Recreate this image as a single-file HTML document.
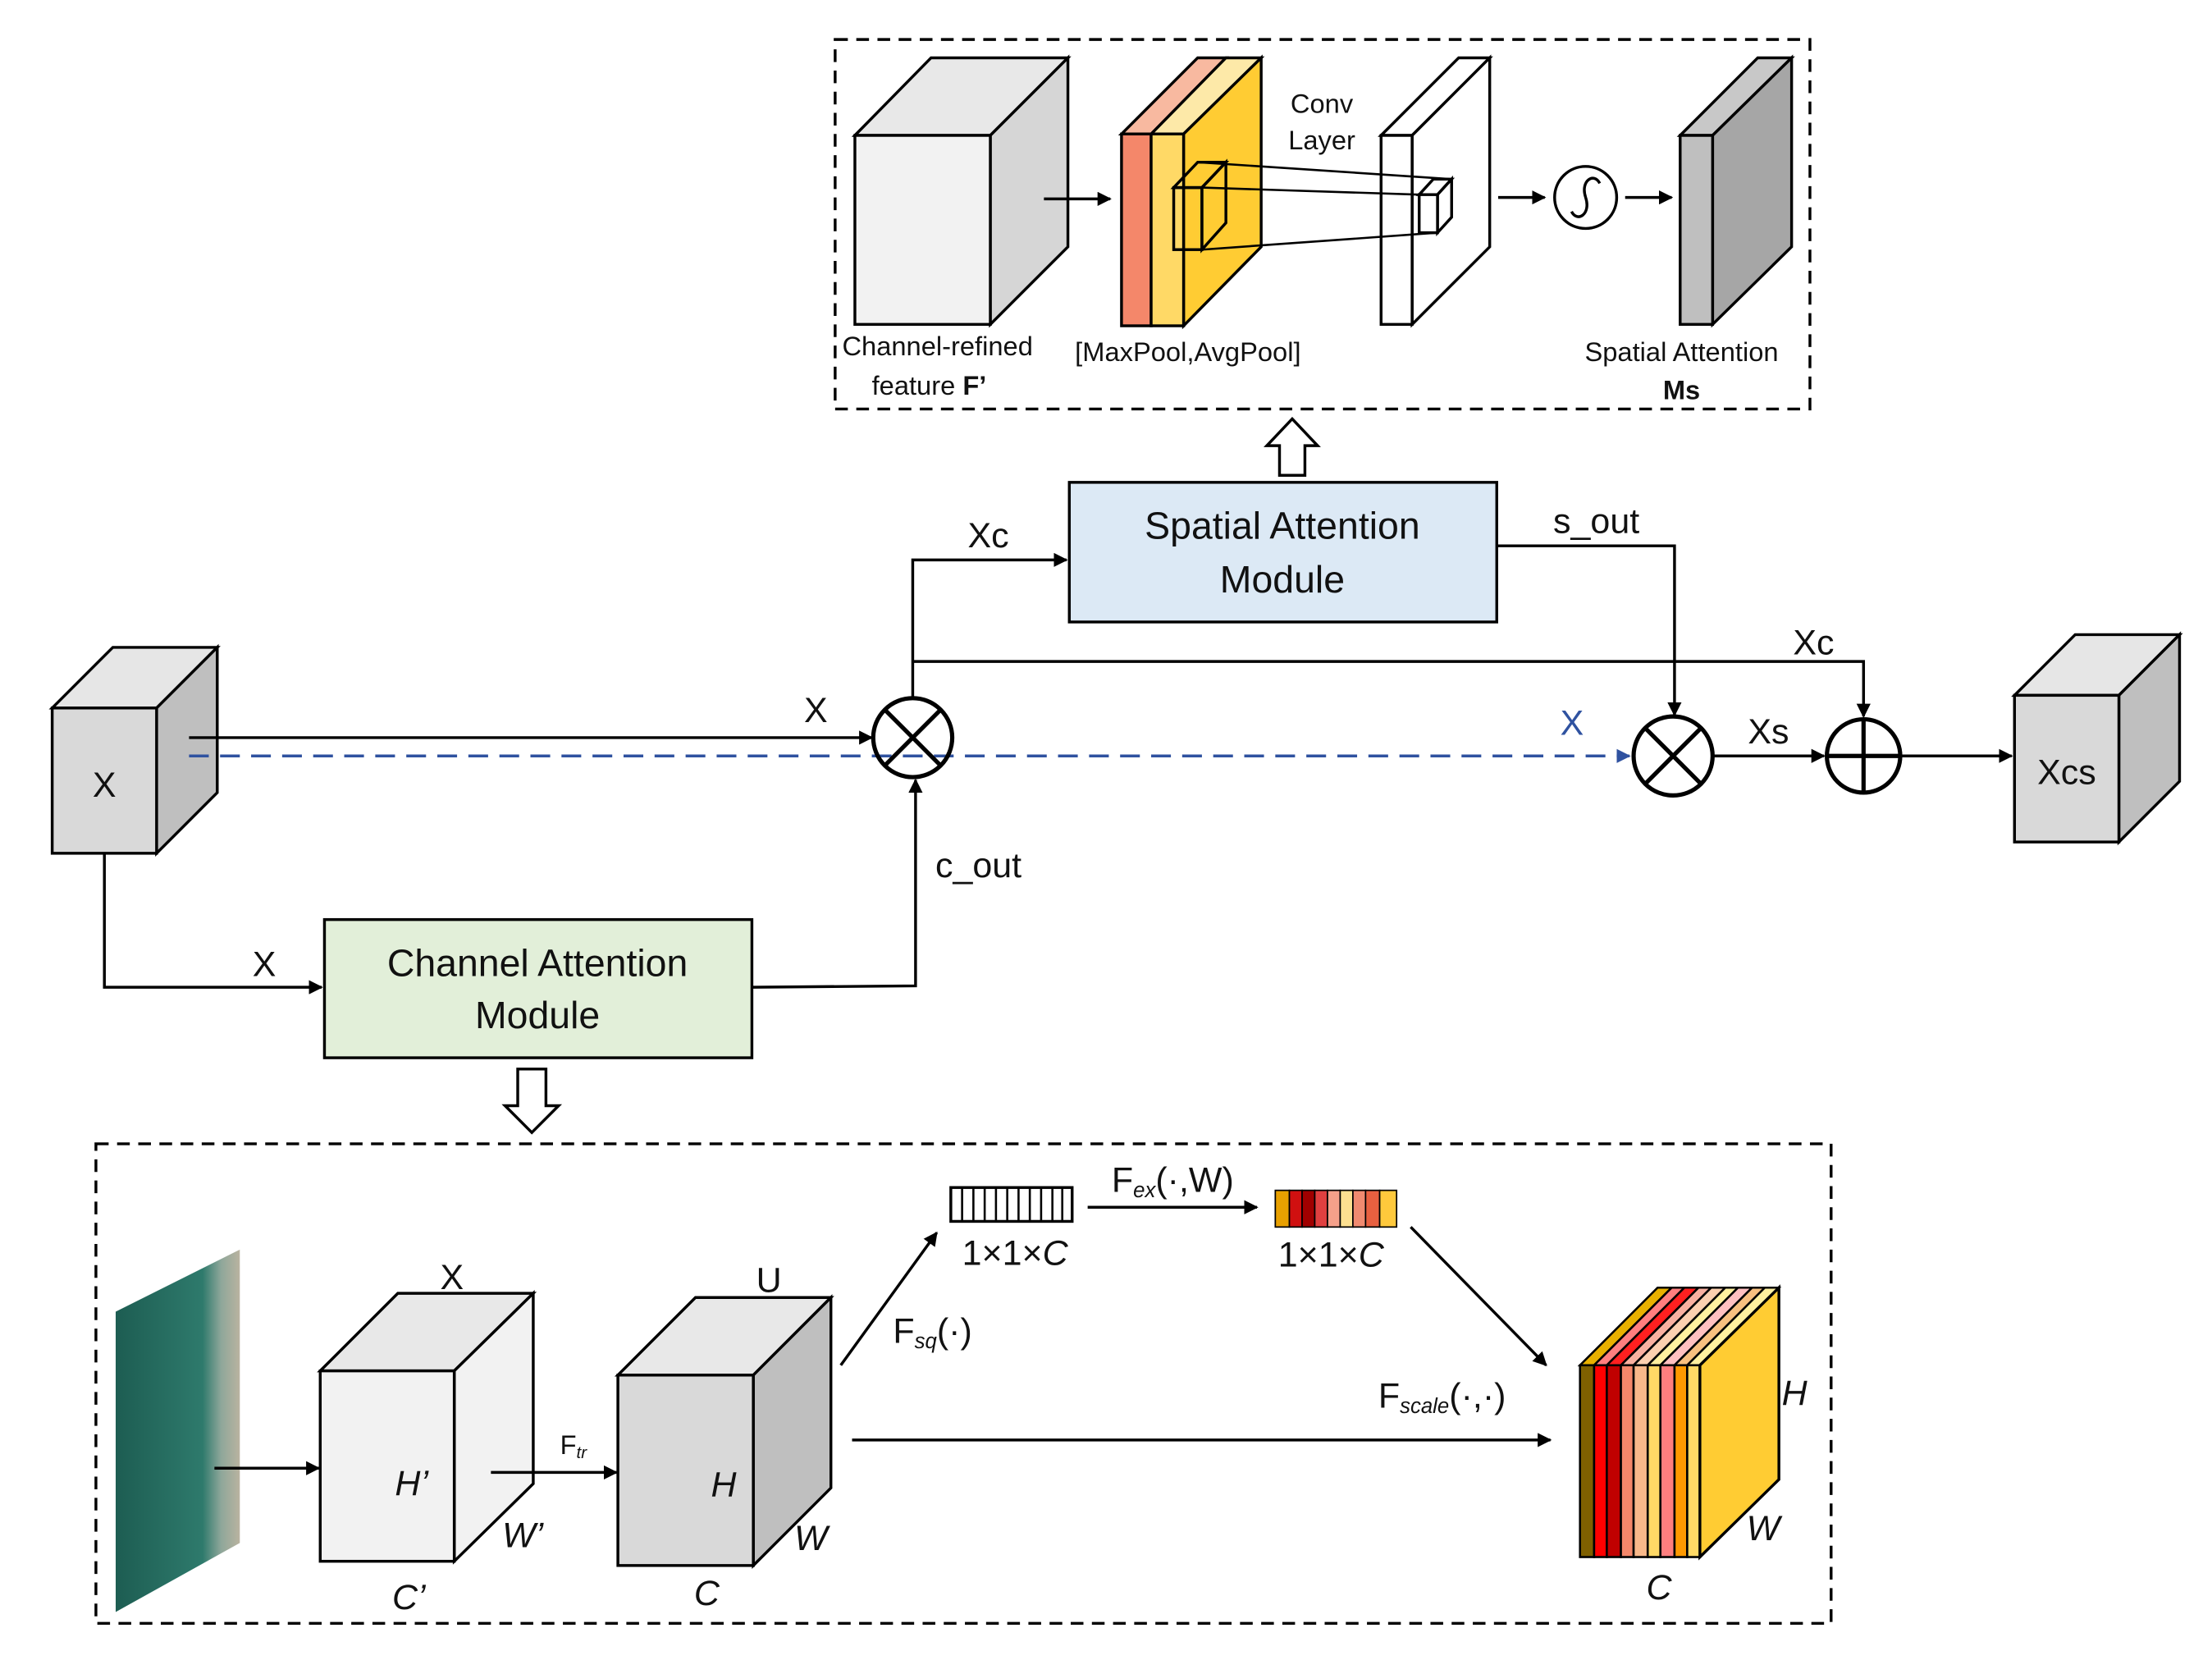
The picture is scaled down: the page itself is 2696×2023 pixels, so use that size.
<!DOCTYPE html>
<html><head><meta charset="utf-8"><style>
html,body{margin:0;padding:0;background:#fff;}
svg{display:block;}
text{font-family:"Liberation Sans","DejaVu Sans",sans-serif;fill:#111;}
</style></head><body>
<svg width="2696" height="2023" viewBox="0 0 1568 1177" preserveAspectRatio="none" xmlns="http://www.w3.org/2000/svg">
<defs>
<marker id="ah" markerWidth="10" markerHeight="10" refX="9" refY="5" orient="auto" markerUnits="userSpaceOnUse"><path d="M0,0 L10,5 L0,10 z" fill="#000"/></marker>
<marker id="ahb" markerWidth="10" markerHeight="10" refX="9" refY="5" orient="auto" markerUnits="userSpaceOnUse"><path d="M0,0 L10,5 L0,10 z" fill="#2f52a0"/></marker>
<linearGradient id="sea" x1="0" y1="0" x2="1" y2="0"><stop offset="0" stop-color="#1d5d52"/><stop offset="0.7" stop-color="#2e7a6c"/><stop offset="0.85" stop-color="#8fa79a"/><stop offset="1" stop-color="#b9b3a0"/></linearGradient>
</defs>
<g stroke="#000" stroke-width="2" fill="none">
<rect x="592" y="28" width="691" height="262" stroke-dasharray="9,6"/>
<!-- cube 1 -->
<polygon points="606,96 660,41 757,41 702,96" fill="#e8e8e8"/>
<polygon points="702,96 757,41 757,175 702,230" fill="#d6d6d6"/>
<rect x="606" y="96" width="96" height="134" fill="#f2f2f2"/>
<line x1="740" y1="141" x2="787" y2="141" marker-end="url(#ah)"/>
<!-- colored block -->
<polygon points="795,95 849,41 869,41 816,95" fill="#f8b9a0"/>
<polygon points="816,95 869,41 894,41 839,95" fill="#fde9a8"/>
<polygon points="839,95 894,41 894,175 839,231" fill="#ffcc33"/>
<rect x="795" y="95" width="21" height="136" fill="#f4876a"/>
<rect x="816" y="95" width="23" height="136" fill="#ffd966"/>
<!-- small cube -->
<polygon points="832,133 849,115 869,115 852,133"/>
<polygon points="852,133 869,115 869,158 852,177"/>
<rect x="832" y="133" width="20" height="44"/>
<!-- conv layer -->
<polygon points="979,96 1034,41 1056,41 1001,96" fill="#fff"/>
<polygon points="1001,96 1056,41 1056,175 1001,230" fill="#fff"/>
<rect x="979" y="96" width="22" height="134" fill="#fff"/>
<line x1="849" y1="115" x2="1029" y2="127" stroke-width="1.5"/>
<line x1="852" y1="133" x2="1006" y2="138" stroke-width="1.5"/>
<line x1="852" y1="177" x2="1019" y2="165" stroke-width="1.5"/>
<polygon points="1006,138 1016,127 1029,127 1019,138" fill="#fff"/>
<polygon points="1019,138 1029,127 1029,154 1019,165" fill="#fff"/>
<rect x="1006" y="138" width="13" height="27" fill="#fff"/>
<line x1="1062" y1="140" x2="1095" y2="140" marker-end="url(#ah)"/>
<circle cx="1124" cy="140" r="22" fill="#fff"/>
<path d="M1114,150 C1118,158 1128,152 1124,140 C1120,128 1130,122 1134,130" stroke-width="2"/>
<line x1="1152" y1="140" x2="1185" y2="140" marker-end="url(#ah)"/>
<polygon points="1191,96 1246,41 1270,41 1214,96" fill="#c8c8c8"/>
<polygon points="1214,96 1270,41 1270,175 1214,230" fill="#a6a6a6"/>
<rect x="1191" y="96" width="23" height="134" fill="#bfbfbf"/>
<polygon points="916,297 934,316 925,316 925,337 907,337 907,316 898,316" fill="#fff"/>
<rect x="758" y="342" width="303" height="99" fill="#dce9f5"/>
<rect x="230" y="652" width="303" height="98" fill="#e2efd9"/>
<polygon points="37,502 80,459 154,459 111,502" fill="#e6e6e6"/>
<polygon points="111,502 154,459 154,562 111,605" fill="#bfbfbf"/>
<rect x="37" y="502" width="74" height="103" fill="#d9d9d9"/>
<polygon points="1428,493 1471,450 1545,450 1502,493" fill="#e6e6e6"/>
<polygon points="1502,493 1545,450 1545,554 1502,597" fill="#bfbfbf"/>
<rect x="1428" y="493" width="74" height="104" fill="#d9d9d9"/>
<line x1="134" y1="523" x2="618" y2="523" marker-end="url(#ah)"/>
<line x1="134" y1="536" x2="1155" y2="536" stroke="#2f52a0" stroke-dasharray="14,8" marker-end="url(#ahb)"/>
<polyline points="74,605 74,700 228,700" marker-end="url(#ah)"/>
<polyline points="533,700 649,699 649,553" marker-end="url(#ah)"/>
<polyline points="647,495 647,397 756,397" marker-end="url(#ah)"/>
<polyline points="647,469 1321,469 1321,508" marker-end="url(#ah)"/>
<polyline points="1061,387 1187,387 1187,507" marker-end="url(#ah)"/>
<line x1="1214" y1="536" x2="1293" y2="536" marker-end="url(#ah)"/>
<line x1="1347" y1="536" x2="1426" y2="536" marker-end="url(#ah)"/>
<circle cx="647" cy="523" r="28" fill="none" stroke-width="3"/>
<line x1="627" y1="503" x2="667" y2="543" stroke-width="3"/><line x1="667" y1="503" x2="627" y2="543" stroke-width="3"/>
<circle cx="1186" cy="536" r="28" fill="#fff" stroke-width="3"/>
<line x1="1166" y1="516" x2="1206" y2="556" stroke-width="3"/><line x1="1206" y1="516" x2="1166" y2="556" stroke-width="3"/>
<circle cx="1321" cy="536" r="26" fill="#fff" stroke-width="3"/>
<line x1="1295" y1="536" x2="1347" y2="536" stroke-width="3"/><line x1="1321" y1="510" x2="1321" y2="562" stroke-width="3"/>
<polygon points="377,803 396,784 387,784 387,758 367,758 367,784 358,784" fill="#fff"/>
<rect x="68" y="811" width="1230" height="340" stroke-dasharray="9,6"/>
<polygon points="82,930 170,886 170,1094 82,1143" fill="url(#sea)" stroke="none"/>
<line x1="152" y1="1041" x2="226" y2="1041" marker-end="url(#ah)"/>
<polygon points="227,972 282,917 378,917 322,972" fill="#e8e8e8"/>
<polygon points="322,972 378,917 378,1052 322,1107" fill="#f2f2f2"/>
<rect x="227" y="972" width="95" height="135" fill="#f2f2f2"/>
<line x1="348" y1="1044" x2="437" y2="1044" marker-end="url(#ah)"/>
<polygon points="438,975 493,920 589,920 534,975" fill="#e8e8e8"/>
<polygon points="534,975 589,920 589,1055 534,1110" fill="#bfbfbf"/>
<rect x="438" y="975" width="96" height="135" fill="#d9d9d9"/>
<line x1="596" y1="968" x2="664" y2="874" marker-end="url(#ah)"/>
<rect x="674" y="842" width="86" height="24" fill="#fff"/>
<g stroke-width="1.5"><line x1="682" y1="842" x2="682" y2="866"/><line x1="690" y1="842" x2="690" y2="866"/><line x1="698" y1="842" x2="698" y2="866"/><line x1="706" y1="842" x2="706" y2="866"/><line x1="714" y1="842" x2="714" y2="866"/><line x1="722" y1="842" x2="722" y2="866"/><line x1="730" y1="842" x2="730" y2="866"/><line x1="738" y1="842" x2="738" y2="866"/><line x1="746" y1="842" x2="746" y2="866"/><line x1="753" y1="842" x2="753" y2="866"/></g>
<line x1="771" y1="856" x2="891" y2="856" marker-end="url(#ah)"/>
<g stroke-width="1">
<rect x="904" y="844" width="10" height="26" fill="#e8a000"/><rect x="914" y="844" width="9" height="26" fill="#d01010"/><rect x="923" y="844" width="9" height="26" fill="#a00000"/><rect x="932" y="844" width="9" height="26" fill="#e04040"/><rect x="941" y="844" width="9" height="26" fill="#f5a08a"/><rect x="950" y="844" width="9" height="26" fill="#fde090"/><rect x="959" y="844" width="9" height="26" fill="#f08a70"/><rect x="968" y="844" width="10" height="26" fill="#e86040"/><rect x="978" y="844" width="12" height="26" fill="#ffc93c"/>
</g>
<line x1="1000" y1="870" x2="1096" y2="968" marker-end="url(#ah)"/>
<line x1="604" y1="1021" x2="1099" y2="1021" marker-end="url(#ah)"/>
<!-- colored cube -->
<g stroke-width="1.5">
<polygon points="1120,968 1175,913 1185,913 1130,968" fill="#e8b000"/>
<polygon points="1130,968 1185,913 1194,913 1139,968" fill="#ff7f7f"/>
<polygon points="1139,968 1194,913 1204,913 1149,968" fill="#ff2020"/>
<polygon points="1149,968 1204,913 1213,913 1158,968" fill="#f8b0a0"/>
<polygon points="1158,968 1213,913 1223,913 1168,968" fill="#fcd0b0"/>
<polygon points="1168,968 1223,913 1232,913 1177,968" fill="#fff0a0"/>
<polygon points="1177,968 1232,913 1242,913 1187,968" fill="#ffc0c0"/>
<polygon points="1187,968 1242,913 1251,913 1196,968" fill="#f8c080"/>
<polygon points="1196,968 1251,913 1261,913 1205,968" fill="#fff0a0"/>
<rect x="1120" y="968" width="10" height="136" fill="#7f6000"/>
<rect x="1130" y="968" width="9" height="136" fill="#ff0000"/>
<rect x="1139" y="968" width="10" height="136" fill="#c00000"/>
<rect x="1149" y="968" width="9" height="136" fill="#f4876a"/>
<rect x="1158" y="968" width="10" height="136" fill="#f8b88a"/>
<rect x="1168" y="968" width="9" height="136" fill="#ffd966"/>
<rect x="1177" y="968" width="10" height="136" fill="#ff7f7f"/>
<rect x="1187" y="968" width="9" height="136" fill="#ff9900"/>
<rect x="1196" y="968" width="9" height="136" fill="#ffd966"/>
</g>
<polygon points="1205,968 1261,913 1261,1049 1205,1104" fill="#ffcc33"/>
</g>
<g font-size="19">
<text x="597" y="252">Channel-refined</text>
<text x="618" y="280">feature <tspan font-weight="bold">F’</tspan></text>
<text x="762" y="256">[MaxPool,AvgPool]</text>
<text x="937" y="80" text-anchor="middle">Conv</text>
<text x="937" y="106" text-anchor="middle">Layer</text>
<text x="1192" y="256" text-anchor="middle">Spatial Attention</text>
<text x="1192" y="283" text-anchor="middle" font-weight="bold">Ms</text>
</g>
<g font-size="27" text-anchor="middle">
<text x="909" y="382">Spatial Attention</text>
<text x="909" y="420">Module</text>
<text x="381" y="692">Channel Attention</text>
<text x="381" y="729">Module</text>
</g>
<g font-size="25">
<text x="74" y="565" text-anchor="middle">X</text>
<text x="1465" y="556" text-anchor="middle">Xcs</text>
<text x="570" y="512">X</text>
<text x="1106" y="521" style="fill:#2f52a0">X</text>
<text x="179" y="692">X</text>
<text x="663" y="622">c_out</text>
<text x="686" y="388">Xc</text>
<text x="1271" y="464">Xc</text>
<text x="1101" y="378">s_out</text>
<text x="1239" y="527">Xs</text>
<text x="312" y="914">X</text>
<text x="536" y="916">U</text>
<text x="280" y="1060" font-style="italic">H’</text>
<text x="356" y="1097" font-style="italic">W’</text>
<text x="278" y="1141" font-style="italic">C’</text>
<text x="504" y="1061" font-style="italic">H</text>
<text x="563" y="1099" font-style="italic">W</text>
<text x="492" y="1138" font-style="italic">C</text>
<text x="1263" y="996" font-style="italic">H</text>
<text x="1238" y="1092" font-style="italic">W</text>
<text x="1167" y="1134" font-style="italic">C</text>
<text x="682" y="897">1×1×<tspan font-style="italic">C</tspan></text>
<text x="906" y="898">1×1×<tspan font-style="italic">C</tspan></text>
<text x="633" y="952">F<tspan font-size="15" font-style="italic" dy="4">sq</tspan><tspan dy="-4">(·)</tspan></text>
<text x="788" y="845">F<tspan font-size="15" font-style="italic" dy="4">ex</tspan><tspan dy="-4">(·,W)</tspan></text>
<text x="977" y="998">F<tspan font-size="15" font-style="italic" dy="4">scale</tspan><tspan dy="-4">(·,·)</tspan></text>
</g>
<text x="397" y="1031" font-size="19">F<tspan font-size="12" font-style="italic" dy="3">tr</tspan></text>
</svg>
</body></html>
